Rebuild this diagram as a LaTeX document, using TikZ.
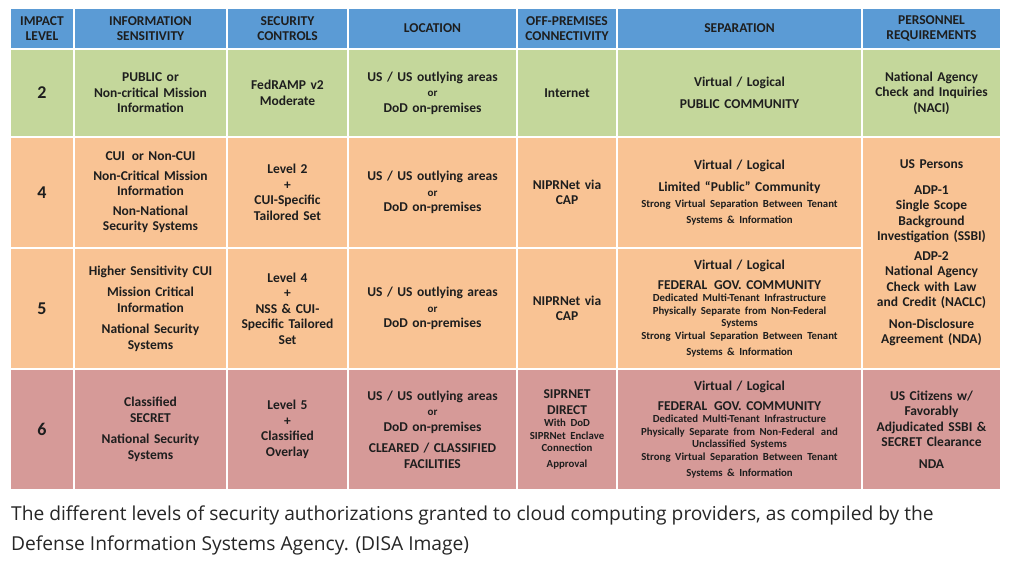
\documentclass[tikz,border=0pt]{standalone}
\usepackage{fontspec}
\setmainfont{Carlito}
\newfontfamily\capfont{Open Sans}
\usetikzlibrary{positioning}
\definecolor{hdrblue}{HTML}{5B9BD5}
\definecolor{rowgreen}{HTML}{C4D79B}
\definecolor{roworange}{HTML}{F9C394}
\definecolor{rowred}{HTML}{D69A98}
\definecolor{inktext}{HTML}{1E1E1E}
% cell{name}{x0}{y0}{x1}{y1}{fill}{text}
\newcommand{\tcell}[7]{%
  \node[cell,fill=#6,minimum width={#4-#2},minimum height={#5-#3},
    text width={#4-#2-4}] (#1) at ({(#2+#4)/2},{(#3+#5)/2}) {#7};}
\newcommand{\sml}{\fontsize{10.8}{12.6}\selectfont}
\newcommand{\orw}{{\fontsize{11}{12}\selectfont or}}
\begin{document}
\begin{tikzpicture}[x=1pt,y=-1pt,
    cell/.style={draw=white,line width=1.5pt,inner sep=0pt,align=center,
      font=\fontsize{13.5}{15.5}\selectfont\bfseries,text=inktext},
    head/.style={font=\fontsize{11.8}{13}\selectfont,text=white}]
  \useasboundingbox (0,0) rectangle (1024,577);
  \fill[white] (0,0) rectangle (1024,577);

  % header
  \begin{scope}[every node/.append style={head}]
  \tcell{h1}{10}{8}{74}{49}{hdrblue}{IMPACT\\LEVEL}
  \tcell{h2}{74}{8}{227}{49}{hdrblue}{INFORMATION\\SENSITIVITY}
  \tcell{h3}{227}{8}{348}{49}{hdrblue}{SECURITY\\CONTROLS}
  \tcell{h4}{348}{8}{517}{49}{hdrblue}{LOCATION}
  \tcell{h5}{517}{8}{617}{49}{hdrblue}{OFF-PREMISES\\CONNECTIVITY}
  \tcell{h6}{617}{8}{862}{49}{hdrblue}{SEPARATION}
  \tcell{h7}{862}{8}{1001}{49}{hdrblue}{PERSONNEL\\REQUIREMENTS}
  \end{scope}

  % level 2
  \tcell{a1}{10}{49}{74}{137}{rowgreen}{\fontsize{18}{20}\selectfont 2}
  \tcell{a2}{74}{49}{227}{137}{rowgreen}{PUBLIC or\\Non-critical Mission\\Information}
  \tcell{a3}{227}{49}{348}{137}{rowgreen}{FedRAMP v2\\Moderate}
  \tcell{a4}{348}{49}{517}{137}{rowgreen}{US / US outlying areas\\\orw\\DoD on-premises}
  \tcell{a5}{517}{49}{617}{137}{rowgreen}{Internet}
  \tcell{a6}{617}{49}{862}{137}{rowgreen}{Virtual / Logical\\[6pt]PUBLIC COMMUNITY}
  \tcell{a7}{862}{49}{1001}{137}{rowgreen}{National Agency\\Check and Inquiries\\(NACI)}

  % level 4
  \tcell{b1}{10}{137}{74}{248}{roworange}{\fontsize{18}{20}\selectfont 4}
  \tcell{b2}{74}{137}{227}{248}{roworange}{CUI\, or Non-CUI\\[4pt]Non-Critical Mission\\Information\\[4pt]Non-National\\Security Systems}
  \tcell{b3}{227}{137}{348}{248}{roworange}{Level 2\\+\\CUI-Specific\\Tailored Set}
  \tcell{b4}{348}{137}{517}{248}{roworange}{US / US outlying areas\\\orw\\DoD on-premises}
  \tcell{b5}{517}{137}{617}{248}{roworange}{NIPRNet via\\CAP}
  \tcell{b6}{617}{137}{862}{248}{roworange}{Virtual / Logical\\[6pt]Limited ``Public'' Community\\[4pt]\sml Strong Virtual Separation Between Tenant\\\sml Systems \& Information}

  % level 5
  \tcell{c1}{10}{248}{74}{369}{roworange}{\fontsize{18}{20}\selectfont 5}
  \tcell{c2}{74}{248}{227}{369}{roworange}{Higher Sensitivity CUI\\[6pt]Mission Critical\\Information\\[6pt]National Security\\Systems}
  \tcell{c3}{227}{248}{348}{369}{roworange}{Level 4\\+\\NSS \& CUI-\\Specific Tailored\\Set}
  \tcell{c4}{348}{248}{517}{369}{roworange}{US / US outlying areas\\\orw\\DoD on-premises}
  \tcell{c5}{517}{248}{617}{369}{roworange}{NIPRNet via\\CAP}
  \tcell{c6}{617}{248}{862}{369}{roworange}{Virtual / Logical\\[4pt]FEDERAL\, GOV. COMMUNITY\\\sml Dedicated Multi-Tenant Infrastructure\\\sml Physically Separate from Non-Federal\\\sml Systems\\\sml Strong Virtual Separation Between Tenant\\\sml Systems \& Information}
  \tcell{bc7}{862}{137}{1001}{369}{roworange}{US Persons\\[10pt]ADP-1\\Single Scope\\Background\\Investigation (SSBI)\\[4pt]ADP-2\\National Agency\\Check with Law\\and Credit (NACLC)\\[6pt]Non-Disclosure\\Agreement (NDA)}

  % level 6
  \tcell{d1}{10}{369}{74}{490}{rowred}{\fontsize{18}{20}\selectfont 6}
  \tcell{d2}{74}{369}{227}{490}{rowred}{Classified\\SECRET\\[6pt]National Security\\Systems}
  \tcell{d3}{227}{369}{348}{490}{rowred}{Level 5\\+\\Classified\\Overlay}
  \tcell{d4}{348}{369}{517}{490}{rowred}{US / US outlying areas\\\orw\\DoD on-premises\\[6pt]CLEARED / CLASSIFIED\\FACILITIES}
  \tcell{d5}{517}{369}{617}{490}{rowred}{SIPRNET\\DIRECT\\\sml With DoD\\\sml SIPRNet Enclave\\\sml Connection\\\sml Approval}
  \tcell{d6}{617}{369}{862}{490}{rowred}{Virtual / Logical\\[4pt]FEDERAL\, GOV. COMMUNITY\\\sml Dedicated Multi-Tenant Infrastructure\\\sml Physically Separate from Non-Federal\, and\\\sml Unclassified Systems\\\sml Strong Virtual Separation Between Tenant\\\sml Systems \& Information}
  \tcell{d7}{862}{369}{1001}{490}{rowred}{US Citizens w/\\Favorably\\Adjudicated SSBI \&\\SECRET Clearance\\[6pt]NDA}

  % caption
  \node[anchor=north west,inner sep=0pt,align=left,text=black!85,
    font=\capfont\fontsize{19.2}{30}\selectfont] (caption) at (11,506)
    {The different levels of security authorizations granted to cloud computing providers, as compiled by the\\Defense Information Systems Agency. (DISA Image)};
\end{tikzpicture}
\end{document}
